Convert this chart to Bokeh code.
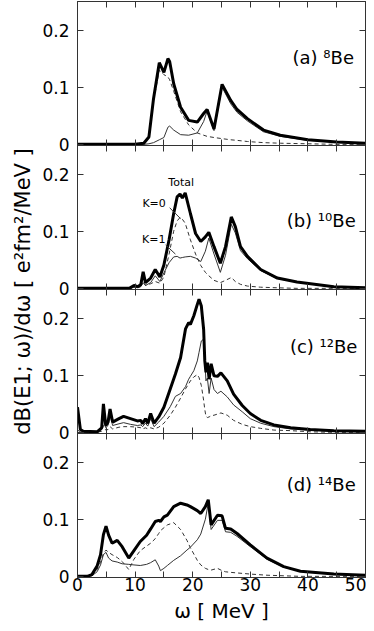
import math
from bokeh.plotting import figure
from bokeh.layouts import column, row
from bokeh.models import Range1d, LinearAxis, FixedTicker, Label, CustomLabelingPolicy
from bokeh.embed import file_html
from bokeh.resources import INLINE

FONT = "DejaVu Sans"

# ---------------- data ----------------
x_ticks = [0, 10, 20, 30, 40, 50]
x_minor = [5, 15, 25, 35, 45]
y_ticks = [0, 0.1, 0.2]
y_tick_labels = {0: "0", 0.1: "0.1", 0.2: "0.2"}

# (a) 8Be
xa = [0, 10, 11.5, 12.4, 13.2, 14.2, 15.0, 15.7, 16.0, 16.7, 17.9, 19.3, 20.8, 21.9, 22.5,
      23.7, 25.1, 26.6, 27.7, 29.5, 32.3, 35.2, 40, 45, 50]
tot_a = [0, 0, 0.002, 0.013, 0.080, 0.143, 0.126, 0.150, 0.145, 0.106, 0.065, 0.042, 0.039,
         0.054, 0.061, 0.027, 0.105, 0.077, 0.061, 0.045, 0.025, 0.016, 0.008, 0.004, 0.002]
k0_a = [0, 0, 0.002, 0.012, 0.075, 0.130, 0.122, 0.118, 0.113, 0.093, 0.057, 0.034, 0.020,
        0.016, 0.014, 0.012, 0.010, 0.008, 0.007, 0.005, 0.003, 0.002, 0.001, 0.0, 0.0]
k1_a = [0, 0, 0, 0.001, 0.003, 0.008, 0.012, 0.030, 0.032, 0.025, 0.017, 0.016, 0.020,
        0.040, 0.058, 0.024, 0.100, 0.071, 0.056, 0.041, 0.022, 0.014, 0.007, 0.004, 0.002]

# (b) 10Be
xb = [0, 9.0, 9.8, 10.5, 11.0, 11.4, 11.8, 12.7, 13.5, 14.3, 15.0, 15.9, 16.7, 17.3, 17.8,
      18.2, 18.7, 19.6, 20.5, 21.4, 22.2, 22.8, 23.7, 24.8, 25.7, 26.7, 27.4, 28.3, 29.5,
      31.8, 34.7, 38.1, 44.5, 50]
tot_b = [0, 0, 0.005, 0.003, 0.007, 0.029, 0.010, 0.018, 0.033, 0.020, 0.041, 0.085, 0.131,
         0.160, 0.165, 0.158, 0.167, 0.131, 0.096, 0.082, 0.090, 0.098, 0.073, 0.044, 0.073,
         0.125, 0.108, 0.073, 0.056, 0.033, 0.018, 0.011, 0.003, 0.001]
k0_b = [0, 0, 0.003, 0.002, 0.004, 0.018, 0.005, 0.008, 0.012, 0.009, 0.020, 0.060, 0.100,
        0.118, 0.124, 0.121, 0.114, 0.085, 0.060, 0.040, 0.028, 0.022, 0.014, 0.010, 0.014,
        0.019, 0.012, 0.007, 0.004, 0.002, 0.001, 0, 0, 0]
k1_b = [0, 0, 0.002, 0.001, 0.003, 0.010, 0.005, 0.010, 0.022, 0.012, 0.027, 0.045, 0.055,
        0.056, 0.053, 0.054, 0.055, 0.056, 0.053, 0.047, 0.065, 0.088, 0.060, 0.028, 0.058,
        0.112, 0.097, 0.066, 0.052, 0.031, 0.017, 0.011, 0.003, 0.001]

# (c) 12Be
xc = [0, 0.5, 1.0, 3.4, 4.2, 4.5, 4.9, 5.3, 5.65, 6.1, 7.2, 8.0, 9.2, 10.4, 11.0, 11.3, 11.8,
      12.2, 12.7, 13.3, 14.1, 15.0, 16.1, 17.0, 17.9, 18.75, 19.3, 19.6, 20.2, 20.8, 21.1,
      21.5, 21.9, 22.1, 22.3, 22.55, 22.85, 23.2, 23.7, 24.3, 24.9, 26.0, 27.1, 28.6, 30.0,
      31.8, 34.1, 37.0, 40.4, 44.5, 50]
tot_c = [0.044, 0.005, 0.002, 0.001, 0.008, 0.050, 0.012, 0.018, 0.041, 0.018, 0.024, 0.028,
         0.024, 0.020, 0.021, 0.015, 0.024, 0.016, 0.033, 0.016, 0.027, 0.044, 0.076, 0.102,
         0.131, 0.181, 0.192, 0.189, 0.204, 0.224, 0.233, 0.221, 0.180, 0.125, 0.105, 0.122,
         0.093, 0.120, 0.099, 0.098, 0.104, 0.090, 0.067, 0.047, 0.033, 0.021, 0.013, 0.008,
         0.005, 0.003, 0.002]
k0_c = [0.004, 0.001, 0, 0, 0.002, 0.012, 0.004, 0.005, 0.010, 0.006, 0.009, 0.010, 0.010,
        0.009, 0.008, 0.006, 0.008, 0.006, 0.008, 0.006, 0.009, 0.016, 0.030, 0.044, 0.060,
        0.076, 0.085, 0.090, 0.097, 0.101, 0.096, 0.082, 0.056, 0.040, 0.028, 0.026, 0.027,
        0.029, 0.030, 0.032, 0.034, 0.030, 0.021, 0.014, 0.010, 0.007, 0.004, 0.003, 0.001,
        0, 0]
k1_c = [0.040, 0.004, 0.001, 0, 0.005, 0.035, 0.008, 0.012, 0.030, 0.012, 0.015, 0.017,
        0.014, 0.012, 0.013, 0.010, 0.016, 0.011, 0.024, 0.010, 0.018, 0.028, 0.045, 0.063,
        0.068, 0.080, 0.093, 0.098, 0.108, 0.125, 0.140, 0.160, 0.163, 0.130, 0.090, 0.095,
        0.068, 0.095, 0.075, 0.068, 0.072, 0.062, 0.048, 0.036, 0.024, 0.016, 0.010, 0.006,
        0.004, 0.002, 0.001]

# (d) 14Be
xd = [0, 1.7, 2.5, 3.4, 4.0, 4.5, 4.95, 5.4, 6.0, 6.9, 7.75, 8.9, 9.8, 10.9, 12.0, 12.7,
      13.5, 14.1, 14.4, 15.0, 15.6, 16.7, 17.9, 19.0, 19.6, 20.8, 21.4, 22.2, 22.7, 23.2,
      24.3, 25.1, 25.7, 26.6, 27.7, 30.0, 32.9, 35.8, 38.7, 44.5, 50]
tot_d = [0, 0, 0.003, 0.018, 0.038, 0.073, 0.088, 0.072, 0.058, 0.063, 0.052, 0.032, 0.045,
         0.061, 0.072, 0.083, 0.096, 0.098, 0.096, 0.104, 0.107, 0.122, 0.128, 0.125, 0.122,
         0.115, 0.110, 0.122, 0.134, 0.090, 0.107, 0.106, 0.084, 0.083, 0.075, 0.055, 0.032,
         0.017, 0.009, 0.004, 0.002]
k0_d = [0, 0, 0.002, 0.012, 0.025, 0.040, 0.046, 0.042, 0.038, 0.033, 0.026, 0.012, 0.030,
        0.045, 0.053, 0.058, 0.066, 0.075, 0.080, 0.085, 0.090, 0.094, 0.082, 0.063, 0.050,
        0.028, 0.020, 0.014, 0.012, 0.011, 0.014, 0.010, 0.008, 0.007, 0.006, 0.004, 0.002,
        0.001, 0, 0, 0]
k1_d = [0, 0, 0.001, 0.008, 0.020, 0.038, 0.042, 0.032, 0.027, 0.025, 0.022, 0.021, 0.020,
        0.019, 0.021, 0.024, 0.029, 0.018, 0.010, 0.014, 0.019, 0.028, 0.036, 0.046, 0.051,
        0.064, 0.074, 0.100, 0.128, 0.082, 0.098, 0.098, 0.078, 0.077, 0.070, 0.052, 0.030,
        0.016, 0.009, 0.004, 0.002]

panel_labels = ["(a) \u2078Be", "(b) \u00b9\u2070Be", "(c) \u00b9\u00b2Be", "(d) \u00b9\u2074Be"]
panel_label_x = [48.0, 48.3, 48.6, 48.3]
panel_label_y = [0.152, 0.118, 0.151, 0.160]

# annotations in panel (b)
ann_text = ["Total", "K=0", "K=1"]
ann_x = [18.0, 13.3, 13.25]
ann_y = [0.186, 0.149, 0.086]
lead_x0 = [16.0, 15.3]
lead_y0 = [0.141, 0.076]
lead_x1 = [17.9, 17.0]
lead_y1 = [0.122, 0.060]

y_title = "dB(E1; \u03c9)/d\u03c9 [ e\u00b2fm\u00b2/MeV ]"
x_title = "\u03c9 [ MeV ]"

AX = "#333333"
FRAME_W = 288
FRAME_H = 144
OVER = 11          # room below each upper panel for its "0" tick label
TITLE_W = 36
LEFT_B = 41


def hide_labels(ax):
    ax.major_label_text_font_size = "0px"
    ax.major_label_standoff = 0
    ax.major_label_policy = CustomLabelingPolicy(code="return []")


def style_axis(ax, labels, ticker):
    ax.ticker = ticker
    ax.major_tick_in = 6
    ax.major_tick_out = 0
    ax.minor_tick_in = 6
    ax.minor_tick_out = 0
    ax.axis_line_color = AX
    ax.major_tick_line_color = AX
    ax.minor_tick_line_color = AX
    if labels:
        ax.major_label_text_font = FONT
        ax.major_label_text_font_size = "17px"
        ax.major_label_text_color = "black"
    else:
        hide_labels(ax)


def make_panel(xs, tot, k0, k1, idx, top=False, bottom=False):
    kw = {}
    if not bottom:
        kw["margin"] = (0, 0, -OVER, 0)
    p = figure(frame_width=FRAME_W, frame_height=FRAME_H,
               x_range=Range1d(0, 50), y_range=Range1d(-0.002, 0.25),
               output_backend="svg", toolbar_location=None,
               x_axis_location=None, y_axis_location=None,
               min_border_left=LEFT_B, min_border_right=1,
               min_border_top=1 if top else 0,
               min_border_bottom=0 if bottom else OVER, **kw)
    p.grid.visible = False
    p.outline_line_color = AX
    p.outline_line_width = 1
    p.background_fill_color = "white"
    p.border_fill_color = None

    below = LinearAxis()
    style_axis(below, bottom, FixedTicker(ticks=x_ticks, minor_ticks=x_minor))
    if bottom:
        below.major_label_standoff = 0
        below.axis_label = x_title
        below.axis_label_text_font = FONT
        below.axis_label_text_font_size = "20px"
        below.axis_label_text_font_style = "normal"
        below.axis_label_text_color = "black"
        below.axis_label_standoff = 5
    p.add_layout(below, "below")

    above = LinearAxis()
    style_axis(above, False, FixedTicker(ticks=x_ticks, minor_ticks=x_minor))
    p.add_layout(above, "above")

    left = LinearAxis()
    style_axis(left, True, FixedTicker(ticks=y_ticks, minor_ticks=[]))
    left.major_label_overrides = y_tick_labels
    left.major_label_standoff = 8
    p.add_layout(left, "left")

    right = LinearAxis()
    style_axis(right, False, FixedTicker(ticks=y_ticks, minor_ticks=[]))
    p.add_layout(right, "right")

    p.line(xs, k0, line_width=1, line_color="#333333", line_dash="4 3")
    p.line(xs, k1, line_width=1, line_color="#333333")
    p.line(xs, tot, line_width=3, line_color="black")

    p.add_layout(Label(x=panel_label_x[idx], y=panel_label_y[idx], text=panel_labels[idx],
                       text_align="right", text_baseline="alphabetic",
                       text_font=FONT, text_font_size="18px", text_color="black"))
    return p


pa = make_panel(xa, tot_a, k0_a, k1_a, 0, top=True)
pb = make_panel(xb, tot_b, k0_b, k1_b, 1)
pc = make_panel(xc, tot_c, k0_c, k1_c, 2)
pd = make_panel(xd, tot_d, k0_d, k1_d, 3, bottom=True)

for t, tx, ty in zip(ann_text, ann_x, ann_y):
    pb.add_layout(Label(x=tx, y=ty, text=t, text_align="center", text_baseline="middle",
                        text_font=FONT, text_font_size="11px", text_color="black"))
pb.segment(x0=lead_x0, y0=lead_y0, x1=lead_x1, y1=lead_y1, line_color="#333333", line_width=1)

# y-axis title in its own narrow strip (pixel-unit ranges)
TITLE_H = 1 + 4 * FRAME_H
yt_fig = figure(width=TITLE_W, height=TITLE_H,
                x_range=Range1d(0, TITLE_W), y_range=Range1d(0, TITLE_H),
                output_backend="svg", toolbar_location=None,
                x_axis_location=None, y_axis_location=None, min_border=0)
yt_fig.outline_line_color = None
yt_fig.grid.visible = False
yt_fig.add_layout(Label(x=22, y=TITLE_H - 291, text=y_title, angle=math.pi / 2,
                        text_align="center", text_baseline="middle",
                        text_font=FONT, text_font_size="21px", text_color="black"))

layout = row(yt_fig, column(pa, pb, pc, pd, spacing=0), spacing=0)

open("out.html", "w").write(file_html(layout, INLINE))
